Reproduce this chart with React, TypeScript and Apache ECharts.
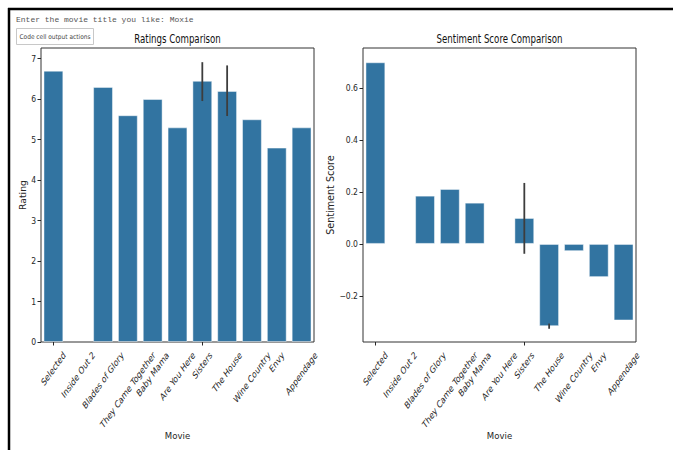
import React, { useEffect, useRef } from "react";
import * as echarts from "echarts";

const categories = [
  "Selected",
  "Inside Out 2",
  "Blades of Glory",
  "They Came Together",
  "Baby Mama",
  "Are You Here",
  "Sisters",
  "The House",
  "Wine Country",
  "Envy",
  "Appendage",
];

const ratings = [6.7, null, 6.3, 5.6, 6.0, 5.3, 6.45, 6.2, 5.5, 4.8, 5.3];
const ratingErrLow = [null, null, null, null, null, null, 5.95, 5.58, null, null, null];
const ratingErrHigh = [null, null, null, null, null, null, 6.91, 6.83, null, null, null];

const sentiment = [0.7, null, 0.186, 0.212, 0.159, null, 0.1, -0.317, -0.028, -0.128, -0.295];
const sentimentErrLow = [null, null, null, null, null, null, -0.038, -0.327, null, null, null];
const sentimentErrHigh = [null, null, null, null, null, null, 0.235, -0.307, null, null, null];

const ratingTicks = [0, 1, 2, 3, 4, 5, 6, 7];
const sentimentTicks = [-0.2, 0, 0.2, 0.4, 0.6];
const ratingRange = [0, 7.26];
const sentimentRange = [-0.378, 0.755];

const BAR = "#3274A1";
const INK = "#262626";
const COND = "'DejaVu Sans Condensed', 'DejaVu Sans', sans-serif";
const SANS = "'DejaVu Sans', 'Liberation Sans', sans-serif";
const SQUEEZE = 0.72;
const XL_FONT = 10;

let measureCtx: CanvasRenderingContext2D | null = null;
function textWidth(t: string, size: number) {
  if (!measureCtx) measureCtx = document.createElement("canvas").getContext("2d");
  if (!measureCtx) return t.length * size * 0.6;
  measureCtx.font = `${size}px 'DejaVu Sans'`;
  return measureCtx.measureText(t).width;
}

function errData(lo: (number | null)[], hi: (number | null)[]) {
  const out: any[] = [];
  lo.forEach((l, i) => {
    const h = hi[i];
    if (l !== null && h !== null) out.push([i, l, h]);
  });
  return out;
}

const renderErr = (params: any, api: any) => {
  const i = api.value(0);
  const a = api.coord([i, api.value(1)]);
  const b = api.coord([i, api.value(2)]);
  return {
    type: "line",
    shape: { x1: a[0], y1: a[1], x2: b[0], y2: b[1] },
    style: { stroke: "#3d3d3d", lineWidth: 1.8 },
  };
};

// rotated tick labels, centred under each tick (matplotlib style), image squeezed horizontally
const renderXLabel = (params: any, api: any) => {
  const i = api.value(0);
  const x = api.coord([i, api.value(1)])[0];
  const cs = params.coordSys;
  const yb = cs.y + cs.height;
  const text = categories[i];
  const L = textWidth(text, XL_FONT);
  const h = XL_FONT * 1.1;
  const half = ((L + h) * Math.SQRT1_2) / 2;
  return {
    type: "group",
    x,
    y: yb,
    scaleX: SQUEEZE,
    children: [
      {
        type: "text",
        x: 0,
        y: 7.5 + half,
        rotation: Math.PI / 4,
        style: {
          text,
          fontSize: XL_FONT,
          fontFamily: SANS,
          fill: INK,
          textAlign: "center",
          textVerticalAlign: "middle",
        },
      },
    ],
  };
};

export default function App() {
  const ref = useRef<HTMLDivElement>(null);
  useEffect(() => {
    if (!ref.current) return;
    const chart = echarts.init(ref.current, undefined, { renderer: "svg" });

    const xAxisCommon = (gridIndex: number) => ({
      type: "category" as const,
      gridIndex,
      data: categories,
      axisLine: { show: false, onZero: false },
      axisTick: { show: true, alignWithLabel: true, length: 3.5, lineStyle: { color: INK } },
      axisLabel: { show: false },
      name: "Movie",
      nameLocation: "middle" as const,
      nameGap: 88,
      nameTextStyle: { fontSize: 9.5, fontFamily: COND, color: INK },
      splitLine: { show: false },
    });

    const labelSeries = (idx: number, yVal: number) => ({
      type: "custom",
      xAxisIndex: idx,
      yAxisIndex: idx,
      clip: false,
      silent: true,
      z: 6,
      renderItem: renderXLabel,
      encode: { x: 0, y: 1 },
      data: categories.map((_, i) => [i, yVal]),
    });

    const titleText = (text: string, x: number) => ({
      type: "text",
      x,
      y: 38,
      scaleX: SQUEEZE,
      style: {
        text,
        fontSize: 12,
        fontFamily: SANS,
        fill: "#111",
        textAlign: "center",
        textVerticalAlign: "middle",
      },
    });

    const option: any = {
      animation: false,
      backgroundColor: "#ffffff",
      grid: [
        { left: 41, top: 48, width: 273, height: 294, show: true, borderColor: "#333", borderWidth: 1, backgroundColor: "transparent" },
        { left: 363, top: 48, width: 273, height: 294, show: true, borderColor: "#333", borderWidth: 1, backgroundColor: "transparent" },
      ],
      xAxis: [xAxisCommon(0), xAxisCommon(1)],
      yAxis: [
        {
          type: "value",
          gridIndex: 0,
          min: ratingRange[0],
          max: ratingRange[1],
          axisLine: { show: false },
          splitLine: { show: false },
          axisTick: { show: true, length: 3.5, customValues: ratingTicks, lineStyle: { color: INK } },
          axisLabel: {
            customValues: ratingTicks,
            fontSize: 8.5,
            fontFamily: COND,
            color: INK,
            margin: 5,
            formatter: (v: number) => String(v),
          },
          name: "Rating",
          nameLocation: "middle",
          nameGap: 13,
          nameTextStyle: { fontSize: 9.3, fontFamily: SANS, color: INK },
        },
        {
          type: "value",
          gridIndex: 1,
          min: sentimentRange[0],
          max: sentimentRange[1],
          axisLine: { show: false },
          splitLine: { show: false },
          axisTick: { show: true, length: 3.5, customValues: sentimentTicks, lineStyle: { color: INK } },
          axisLabel: {
            customValues: sentimentTicks,
            fontSize: 8.5,
            fontFamily: COND,
            color: INK,
            margin: 5,
            formatter: (v: number) => (v < -1e-9 ? "\u2212" : "") + Math.abs(v).toFixed(1),
          },
          name: "Sentiment Score",
          nameLocation: "middle",
          nameGap: 25,
          nameTextStyle: { fontSize: 9.6, fontFamily: SANS, color: INK },
        },
      ],
      series: [
        {
          type: "bar",
          xAxisIndex: 0,
          yAxisIndex: 0,
          data: ratings.map((v) => (v === null ? "-" : v)),
          barCategoryGap: "20%",
          itemStyle: { color: BAR, borderColor: "rgba(255,255,255,0.45)", borderWidth: 1 },
        },
        {
          type: "custom",
          xAxisIndex: 0,
          yAxisIndex: 0,
          z: 5,
          renderItem: renderErr,
          encode: { x: 0, y: [1, 2] },
          data: errData(ratingErrLow, ratingErrHigh),
        },
        labelSeries(0, 0),
        {
          type: "bar",
          xAxisIndex: 1,
          yAxisIndex: 1,
          data: sentiment.map((v) => (v === null ? "-" : v)),
          barCategoryGap: "20%",
          itemStyle: { color: BAR, borderColor: "rgba(255,255,255,0.45)", borderWidth: 1 },
        },
        {
          type: "custom",
          xAxisIndex: 1,
          yAxisIndex: 1,
          z: 5,
          renderItem: renderErr,
          encode: { x: 0, y: [1, 2] },
          data: errData(sentimentErrLow, sentimentErrHigh),
        },
        labelSeries(1, 0),
      ],
      graphic: [
        { type: "line", shape: { x1: 8, y1: 9, x2: 673, y2: 9 }, style: { stroke: "#000", lineWidth: 2.5 } },
        { type: "line", shape: { x1: 9, y1: 8, x2: 9, y2: 450 }, style: { stroke: "#000", lineWidth: 2.5 } },
        titleText("Ratings Comparison", 177.5),
        titleText("Sentiment Score Comparison", 499.5),
        {
          type: "text",
          x: 16,
          y: 19,
          style: {
            text: "Enter the movie title you like: Moxie",
            fontFamily: "'Liberation Mono', 'DejaVu Sans Mono', monospace",
            fontSize: 8,
            fill: "#555",
            textVerticalAlign: "middle",
          },
        },
        {
          type: "rect",
          shape: { x: 16.5, y: 28.5, width: 77, height: 16 },
          style: { fill: "#fff", stroke: "#c8c8c8", lineWidth: 1 },
        },
        {
          type: "text",
          x: 55,
          y: 36.5,
          style: {
            text: "Code cell output actions",
            fontFamily: COND,
            fontSize: 6.5,
            fill: "#444",
            textAlign: "center",
            textVerticalAlign: "middle",
          },
        },
      ],
    };
    chart.setOption(option);
    return () => chart.dispose();
  }, []);

  return (
    <div
      ref={ref}
      style={{ position: "fixed", left: 0, top: 0, width: 673, height: 450, background: "#fff" }}
    />
  );
}
